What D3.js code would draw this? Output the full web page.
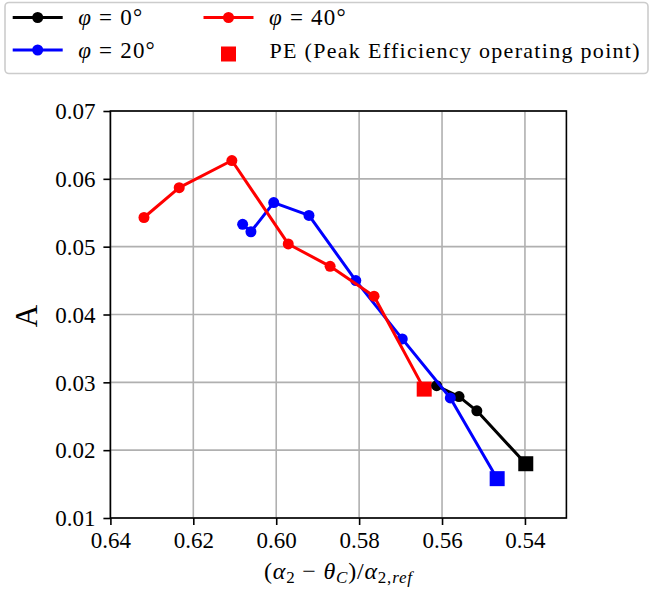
<!DOCTYPE html>
<html>
<head>
<meta charset="utf-8">
<script src="https://cdn.jsdelivr.net/npm/d3@7"></script>
<style>
  body { margin: 0; background: #fff; }
  text { font-family: "Liberation Serif", "DejaVu Serif", serif; fill: #000; }
</style>
</head>
<body>
<svg id="chart"></svg>
<script>
// data (x = (alpha2 - thetaC)/alpha2,ref, y = A)
const phi0X = [0.5613, 0.5559, 0.5516, 0.5398];
const phi0Y = [0.0295, 0.0279, 0.0258, 0.0180];
const phi20X = [0.6081, 0.6061, 0.6006, 0.5921, 0.5808, 0.5696, 0.5580, 0.5467];
const phi20Y = [0.0533, 0.0522, 0.0565, 0.0546, 0.0450, 0.0364, 0.0277, 0.0158];
const phi40X = [0.6319, 0.6234, 0.6107, 0.5971, 0.5870, 0.5764, 0.5643];
const phi40Y = [0.0543, 0.0587, 0.0627, 0.0504, 0.0471, 0.0427, 0.0290];
// peak efficiency point = last point of each series
const xTicks = [0.64, 0.62, 0.60, 0.58, 0.56, 0.54];
const yTicks = [0.01, 0.02, 0.03, 0.04, 0.05, 0.06, 0.07];
const seriesLabels = ["0°", "20°", "40°"];
const seriesColors = ["#000000", "#0000ff", "#ff0000"];

const width = 652, height = 592;
const plot = {left: 110.4, right: 566.4, top: 111, bottom: 518};

const svg = d3.select("#chart").attr("width", width).attr("height", height);

const xScale = d3.scaleLinear().domain([0.64, 0.53]).range([plot.left, plot.right]);
const yScale = d3.scaleLinear().domain([0.01, 0.07]).range([plot.bottom, plot.top]);

const series = [[phi0X, phi0Y], [phi20X, phi20Y], [phi40X, phi40Y]]
    .map(([xs, ys], i) => ({
        points: xs.map((x, j) => [x, ys[j]]),
        color: seriesColors[i],
        label: seriesLabels[i]
    }));

//grid
const grid = svg.append("g");
grid.selectAll("line.gx").data(xTicks).join("line")
    .attr("x1", d => xScale(d)).attr("x2", d => xScale(d))
    .attr("y1", plot.top).attr("y2", plot.bottom)
    .attr("stroke", "#b0b0b0").attr("stroke-width", 1.6);
grid.selectAll("line.gy").data(yTicks).join("line")
    .attr("y1", d => yScale(d)).attr("y2", d => yScale(d))
    .attr("x1", plot.left).attr("x2", plot.right)
    .attr("stroke", "#b0b0b0").attr("stroke-width", 1.6);

//axes
const xAxis = svg.append("g")
    .attr("transform", `translate(0,${plot.bottom})`)
    .call(d3.axisBottom(xScale).tickValues(xTicks).tickSize(7).tickPadding(7).tickFormat(d3.format(".2f")))
    .call(g => g.select(".domain").remove());
const yAxis = svg.append("g")
    .attr("transform", `translate(${plot.left},0)`)
    .call(d3.axisLeft(yScale).tickValues(yTicks).tickSize(7).tickPadding(8).tickFormat(d3.format(".2f")))
    .call(g => g.select(".domain").remove());
svg.selectAll(".tick line").attr("stroke", "#000").attr("stroke-width", 1.6);
svg.selectAll(".tick text")
    .attr("font-family", "Liberation Serif")
    .style("font-family", "'Liberation Serif', serif")
    .style("font-size", "23px").attr("fill", "#000");
yAxis.selectAll(".tick text").attr("dy", "0.34em");

//PE squares (drawn under the lines)
const sq = 15;
svg.append("g").selectAll("rect").data(series).join("rect")
    .attr("x", d => xScale(d.points[d.points.length - 1][0]) - sq / 2)
    .attr("y", d => yScale(d.points[d.points.length - 1][1]) - sq / 2)
    .attr("width", sq).attr("height", sq)
    .attr("fill", d => d.color);

const line = d3.line().x(d => xScale(d[0])).y(d => yScale(d[1]));
series.forEach(s => {
    const g = svg.append("g");
    g.append("path").datum(s.points)
        .attr("d", line).attr("fill", "none")
        .attr("stroke", s.color).attr("stroke-width", 3)
        .attr("stroke-linejoin", "round");
    g.selectAll("circle").data(s.points.slice(0, -1)).join("circle")
        .attr("cx", d => xScale(d[0])).attr("cy", d => yScale(d[1]))
        .attr("r", 5.5).attr("fill", s.color);
});

// frame
svg.append("rect")
    .attr("x", plot.left).attr("y", plot.top)
    .attr("width", plot.right - plot.left).attr("height", plot.bottom - plot.top)
    .attr("fill", "none").attr("stroke", "#000").attr("stroke-width", 1.6);

//axis labels
const xl = svg.append("text")
    .attr("x", (plot.left + plot.right) / 2).attr("y", 579)
    .attr("text-anchor", "middle").style("font-size", "24px").style("letter-spacing", "0.8px");
xl.append("tspan").text("(");
xl.append("tspan").attr("font-style", "italic").text("α");
xl.append("tspan").attr("font-size", "17px").attr("dy", 4).text("2");
xl.append("tspan").attr("dy", -4).text(" − ");
xl.append("tspan").attr("font-style", "italic").text("θ");
xl.append("tspan").attr("font-style", "italic").attr("font-size", "17px").attr("dy", 4).text("C");
xl.append("tspan").attr("dy", -4).text(")/");
xl.append("tspan").attr("font-style", "italic").text("α");
xl.append("tspan").attr("font-size", "17px").attr("dy", 4).text("2,");
xl.append("tspan").attr("font-size", "17px").attr("font-style", "italic").text("ref");

svg.append("text")
    .attr("transform", "translate(26,316) rotate(-90)")
    .attr("text-anchor", "middle").attr("dominant-baseline", "central")
    .style("font-size", "31px").text("A");

//legend
const legend = svg.append("g");
legend.append("rect")
    .attr("x", 5).attr("y", 2.5).attr("width", 643).attr("height", 71).attr("rx", 4)
    .attr("fill", "#fff").attr("fill-opacity", 0.8)
    .attr("stroke", "#cccccc").attr("stroke-width", 1.6);
const legendPos = [[12.7, 17.5], [12.7, 50], [203.5, 17.5]];
series.forEach((s, i) => {
    const [lx, ly] = legendPos[i];
    legend.append("line")
        .attr("x1", lx).attr("x2", lx + 50).attr("y1", ly).attr("y2", ly)
        .attr("stroke", s.color).attr("stroke-width", 3);
    legend.append("circle").attr("cx", lx + 25).attr("cy", ly).attr("r", 5.5).attr("fill", s.color);
    const t = legend.append("text").attr("x", lx + 65.5).attr("y", ly + 7.5)
        .style("font-size", "23px").style("letter-spacing", "1.2px");
    t.append("tspan").attr("font-style", "italic").text("φ");
    t.append("tspan").text(" = " + s.label);
});
legend.append("rect")
    .attr("x", 228.5 - sq / 2).attr("y", 54 - sq / 2).attr("width", sq).attr("height", sq)
    .attr("fill", seriesColors[2]);
legend.append("text").attr("x", 269.5).attr("y", 57.5)
    .style("font-size", "22px").style("letter-spacing", "1.3px")
    .text("PE (Peak Efficiency operating point)");
</script>
</body>
</html>
